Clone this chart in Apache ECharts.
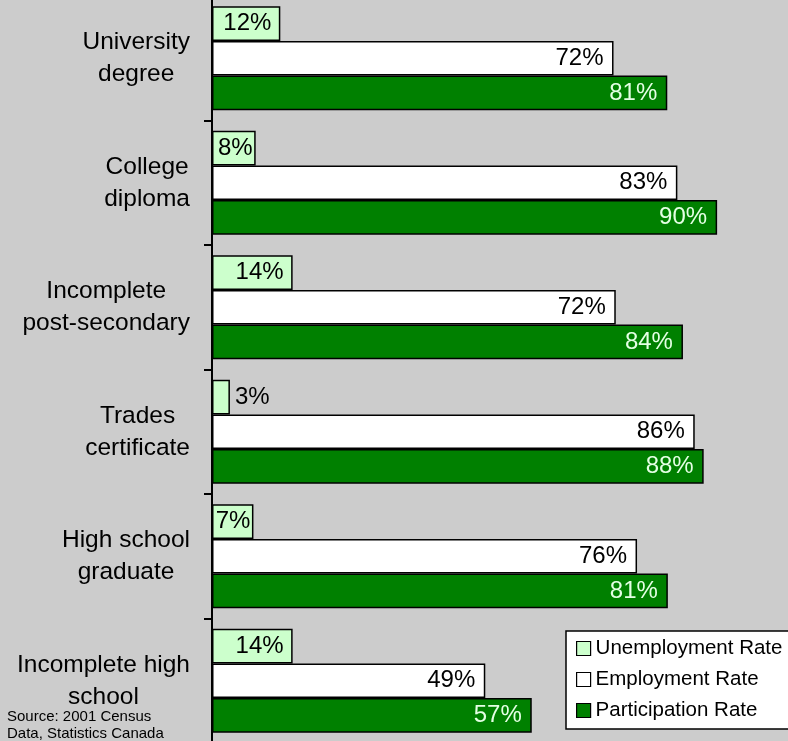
<!DOCTYPE html>
<html>
<head>
<meta charset="utf-8">
<style>
  html, body { margin: 0; padding: 0; background: #cccccc; overflow: hidden; }
  #wrap { position: relative; width: 788px; height: 741px; overflow: hidden; }
  #chart { position: absolute; left: 0; top: -4px; width: 788px; height: 747px; }
</style>
<script src="https://cdn.jsdelivr.net/npm/echarts@6/dist/echarts.min.js"></script>
</head>
<body>
<div id="wrap"><div id="chart"></div></div>
<script>
const categories = [
  'University\ndegree',
  'College\ndiploma',
  'Incomplete\npost-secondary',
  'Trades\ncertificate',
  'High school\ngraduate',
  'Incomplete high\nschool'
];
const seriesNames = ['Unemployment Rate', 'Employment Rate', 'Participation Rate'];
const unemploymentRate = [12.2, 7.8, 14.4, 3.2, 7.4, 14.4];
const employmentRate = [71.7, 83.1, 72.1, 86.2, 75.9, 48.8];
const participationRate = [81.3, 90.2, 84.1, 87.8, 81.4, 57.1];
const sourceText = 'Source: 2001 Census\nData, Statistics Canada';

const FONT = "'Liberation Sans', Arial, sans-serif";
const chart = echarts.init(document.getElementById('chart'));

const pctFmt = p => Math.round(p.value) + '%';

const unempData = unemploymentRate.map(v => ({
  value: v,
  label: v < 5 ? { position: 'right', distance: 5 }
       : v < 10 ? { position: 'insideRight', distance: 3 }
       : undefined
}));

chart.setOption({
  backgroundColor: '#cccccc',
  animation: false,
  textStyle: { fontFamily: FONT },
  title: {
    text: sourceText,
    left: 2,
    top: 708,
    textStyle: { fontFamily: FONT, fontSize: 15, fontWeight: 'normal', color: '#000', lineHeight: 16.5 }
  },
  legend: {
    orient: 'vertical',
    left: 566,
    top: 635,
    padding: [7, 30, 8, 10],
    itemGap: 10,
    itemWidth: 14,
    itemHeight: 14,
    icon: 'rect',
    backgroundColor: '#ffffff',
    borderColor: '#000',
    borderWidth: 1.5,
    borderRadius: 0,
    data: seriesNames,
    textStyle: { fontFamily: FONT, fontSize: 20.5, color: '#000' },
    itemStyle: { borderColor: '#000', borderWidth: 1.2 }
  },
  grid: { left: 212, right: 16, top: 0, bottom: 0, containLabel: false },
  xAxis: {
    type: 'value', min: 0, max: 100, show: false,
    splitLine: { show: false }
  },
  yAxis: {
    type: 'category',
    inverse: true,
    data: categories,
    axisLine: { lineStyle: { color: '#000', width: 2 } },
    axisTick: { show: true, length: 8, lineStyle: { color: '#000', width: 2 } },
    axisLabel: {
      margin: 22,
      formatter: v => v.split('\n').map(s => '{c|' + s + '}').join('\n'),
      rich: {
        c: { align: 'center', fontSize: 24.5, lineHeight: 32, color: '#000', fontFamily: FONT }
      }
    }
  },
  series: [
    {
      name: seriesNames[0], type: 'bar', data: unempData,
      barGap: '0%', barCategoryGap: '16.5%',
      itemStyle: { color: '#ccffcc', borderColor: '#000', borderWidth: 1.5 },
      label: { show: true, position: 'insideRight', distance: 9, formatter: pctFmt, fontSize: 24, color: '#000', fontFamily: FONT }
    },
    {
      name: seriesNames[1], type: 'bar', data: employmentRate,
      barGap: '0%', barCategoryGap: '16.5%',
      itemStyle: { color: '#ffffff', borderColor: '#000', borderWidth: 1.5 },
      label: { show: true, position: 'insideRight', distance: 10, formatter: pctFmt, fontSize: 24, color: '#000', fontFamily: FONT }
    },
    {
      name: seriesNames[2], type: 'bar', data: participationRate,
      barGap: '0%', barCategoryGap: '16.5%',
      itemStyle: { color: '#008000', borderColor: '#000', borderWidth: 1.5 },
      label: { show: true, position: 'insideRight', distance: 10, formatter: pctFmt, fontSize: 24, color: '#e4ffe4', fontFamily: FONT }
    }
  ]
});
</script>
</body>
</html>
